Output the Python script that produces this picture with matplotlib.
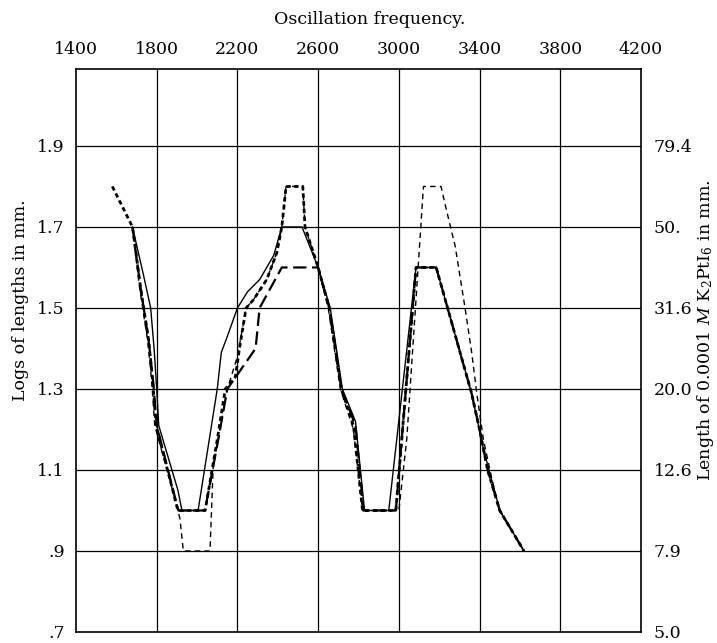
import matplotlib
matplotlib.use("Agg")
import matplotlib.pyplot as plt

# ---------------- data ----------------
freq_ticks = [1400, 1800, 2200, 2600, 3000, 3400, 3800, 4200]
log_ticks = [0.7, 0.9, 1.1, 1.3, 1.5, 1.7, 1.9]
log_labels = [".7", ".9", "1.1", "1.3", "1.5", "1.7", "1.9"]
len_labels = ["5.0", "7.9", "12.6", "20.0", "31.6", "50.", "79.4"]

# thin solid curve
solid_x = [1680, 1735, 1770, 1787, 1800, 1810, 1905, 1925, 2005, 2100, 2120, 2150,
           2200, 2250, 2310, 2380, 2420, 2520, 2600, 2660, 2720, 2785, 2830, 2950,
           3085, 3185, 3360, 3420, 3500, 3620]
solid_y = [1.70, 1.58, 1.50, 1.40, 1.30, 1.21, 1.05, 1.00, 1.00, 1.30, 1.39, 1.43,
           1.50, 1.54, 1.57, 1.63, 1.70, 1.70, 1.60, 1.50, 1.30, 1.22, 1.00, 1.00,
           1.60, 1.60, 1.29, 1.15, 1.00, 0.90]

# heavy dotted curve
dot_x = [1580, 1680, 1720, 1760, 1780, 1797, 1905, 2040, 2100, 2140, 2190, 2210,
         2243, 2279, 2345, 2395, 2420, 2441, 2524, 2535, 2600, 2655, 2715, 2775,
         2820, 2985, 3085, 3185, 3360, 3400, 3440, 3500, 3620]
dot_y = [1.80, 1.70, 1.55, 1.42, 1.32, 1.21, 1.00, 1.00, 1.175, 1.30, 1.33, 1.40,
         1.50, 1.52, 1.57, 1.636, 1.70, 1.80, 1.80, 1.70, 1.60, 1.50, 1.30, 1.21,
         1.00, 1.00, 1.60, 1.60, 1.29, 1.20, 1.10, 1.00, 0.90]

# long-dash curve
long_x = [1680, 1720, 1760, 1782, 1800, 1907, 2039, 2105, 2150, 2290, 2310, 2420,
          2600, 2655, 2715, 2785, 2825, 2985, 3085, 3185, 3360, 3400, 3440, 3500, 3620]
long_y = [1.70, 1.55, 1.42, 1.32, 1.21, 1.00, 1.00, 1.175, 1.30, 1.40, 1.50, 1.60,
          1.60, 1.50, 1.30, 1.21, 1.00, 1.00, 1.60, 1.60, 1.29, 1.20, 1.10, 1.00, 0.90]

# thin dashed curve
dash_x = [1680, 1715, 1755, 1775, 1790, 1890, 1915, 1932, 2064, 2080, 2150, 2200,
          2243, 2279, 2345, 2395, 2420, 2441, 2524, 2535, 2600, 2650, 2710, 2775,
          2820, 3000, 3039, 3122, 3209, 3229, 3279, 3328, 3361, 3386, 3419, 3460,
          3500, 3620]
dash_y = [1.70, 1.55, 1.42, 1.32, 1.21, 1.03, 0.98, 0.90, 0.90, 1.11, 1.30, 1.38,
          1.50, 1.52, 1.57, 1.636, 1.70, 1.80, 1.80, 1.70, 1.60, 1.50, 1.30, 1.20,
          1.00, 1.00, 1.175, 1.80, 1.80, 1.756, 1.653, 1.50, 1.39, 1.29, 1.175, 1.08,
          1.00, 0.90]

# ---------------- figure ----------------
plt.rcParams["font.family"] = ["DejaVu Serif"]
plt.rcParams["mathtext.fontset"] = "dejavuserif"

W, H = 717, 643
fig = plt.figure(figsize=(W / 100, H / 100), dpi=100)
ax = fig.add_axes([76 / W, 1 - 632 / H, (641 - 76) / W, (632 - 69) / H])

ax.set_xlim(1400, 4200)
ax.set_ylim(0.7, 2.09)

for v in freq_ticks[1:-1]:
    ax.axvline(v, color="black", lw=0.9, zorder=1)
for v in log_ticks[1:]:
    ax.axhline(v, color="black", lw=0.9, zorder=1)

ax.plot(solid_x, solid_y, color="black", lw=1.0, zorder=3)
ax.plot(dot_x, dot_y, color="black", lw=2.0, dashes=(1.6, 1.2), zorder=3)
ax.plot(long_x, long_y, color="black", lw=1.6, dashes=(6, 2.5), zorder=3)
ax.plot(dash_x, dash_y, color="black", lw=1.0, dashes=(4, 3), zorder=3)

for s in ax.spines.values():
    s.set_linewidth(1.2)

ax.xaxis.set_ticks_position("top")
ax.xaxis.set_label_position("top")
ax.set_xticks(freq_ticks)
ax.set_xticklabels([str(v) for v in freq_ticks], fontsize=12.5)
ax.set_yticks(log_ticks)
ax.set_yticklabels(log_labels, fontsize=12.5)
ax.tick_params(length=0, pad=8)

ax2 = ax.twinx()
ax2.set_ylim(ax.get_ylim())
ax2.set_yticks(log_ticks)
ax2.set_yticklabels(len_labels, fontsize=12.5)
ax2.tick_params(length=0, pad=9)
for s in ax2.spines.values():
    s.set_visible(False)

fig.text(370 / W, 1 - 20 / H, "Oscillation frequency.", ha="center", va="center", fontsize=12.5)
fig.text(21 / W, 1 - 300 / H, "Logs of lengths in mm.", rotation=90, ha="center", va="center", fontsize=12.5)
fig.text(705 / W, 1 - 330 / H, r"Length of 0.0001 $M$ K$_2$PtI$_6$ in mm.", rotation=90,
         ha="center", va="center", fontsize=12.5)

fig.savefig("out.png", dpi=100, facecolor="white")
